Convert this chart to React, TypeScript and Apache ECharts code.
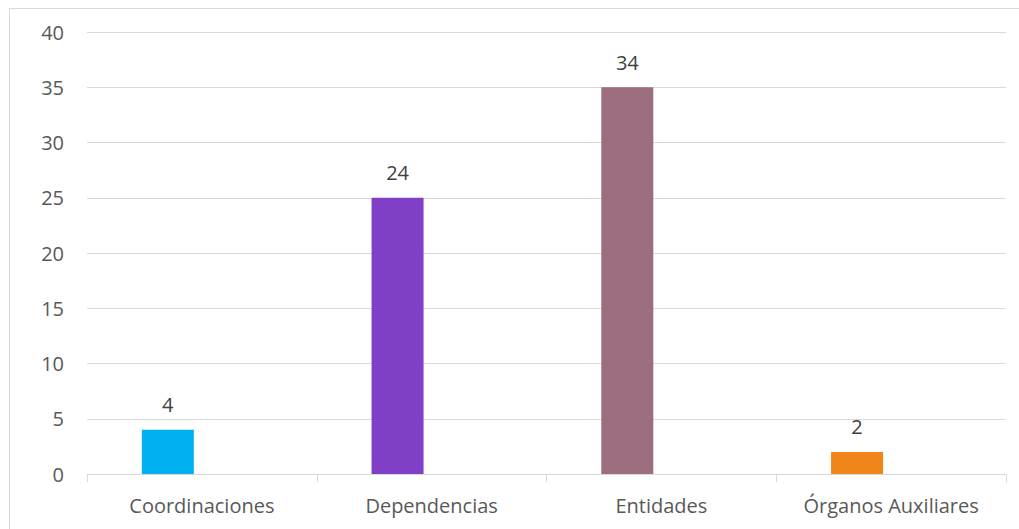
import React, { useEffect, useRef } from "react";
import * as echarts from "echarts";

const categories = ["Coordinaciones", "Dependencias", "Entidades", "Órganos Auxiliares"];
const barValues = [4, 25, 35, 2];
const labelTexts = ["4", "24", "34", "2"];
const emptySeriesValues = [null, null, null, null];
const colors = ["#00B0F0", "#7F3FC6", "#9B6D7E", "#F0861A"];
const yTicks = [0, 5, 10, 15, 20, 25, 30, 35, 40];

export default function App() {
  const ref = useRef<HTMLDivElement>(null);
  useEffect(() => {
    const chart = echarts.init(ref.current!, null, { renderer: "svg" });
    chart.setOption({
      animation: false,
      textStyle: { fontFamily: "Open Sans" },
      graphic: [
        {
          type: "rect",
          shape: { x: 9.5, y: 8.5, width: 1200, height: 700 },
          style: { fill: "none", stroke: "#d9d9d9", lineWidth: 1 },
          silent: true,
        },
      ],
      grid: { left: 87, right: 13, top: 32, bottom: 55, containLabel: false },
      xAxis: {
        type: "category",
        data: categories,
        axisLine: { lineStyle: { color: "#d9d9d9", width: 1 } },
        axisTick: { show: true, length: 8, lineStyle: { color: "#d9d9d9" } },
        axisLabel: { color: "#595959", fontSize: 20, margin: 21 },
      },
      yAxis: {
        type: "value",
        min: yTicks[0],
        max: yTicks[yTicks.length - 1],
        interval: 5,
        axisLine: { show: false },
        axisTick: { show: false },
        axisLabel: { color: "#595959", fontSize: 20, margin: 23 },
        splitLine: { lineStyle: { color: "#d9d9d9", width: 1 } },
      },
      series: [
        {
          type: "bar",
          barWidth: 52,
          barGap: "31%",
          data: barValues.map((v, i) => ({ value: v, itemStyle: { color: colors[i] } })),
          label: {
            show: true,
            position: "top",
            distance: 15,
            color: "#404040",
            fontSize: 20,
            formatter: (p: any) => labelTexts[p.dataIndex],
          },
        },
        {
          type: "bar",
          barWidth: 52,
          data: emptySeriesValues,
        },
      ],
    });
    return () => chart.dispose();
  }, []);
  return (
    <div
      ref={ref}
      style={{ position: "fixed", left: 0, top: 0, width: 1019, height: 529, background: "#fff" }}
    />
  );
}
